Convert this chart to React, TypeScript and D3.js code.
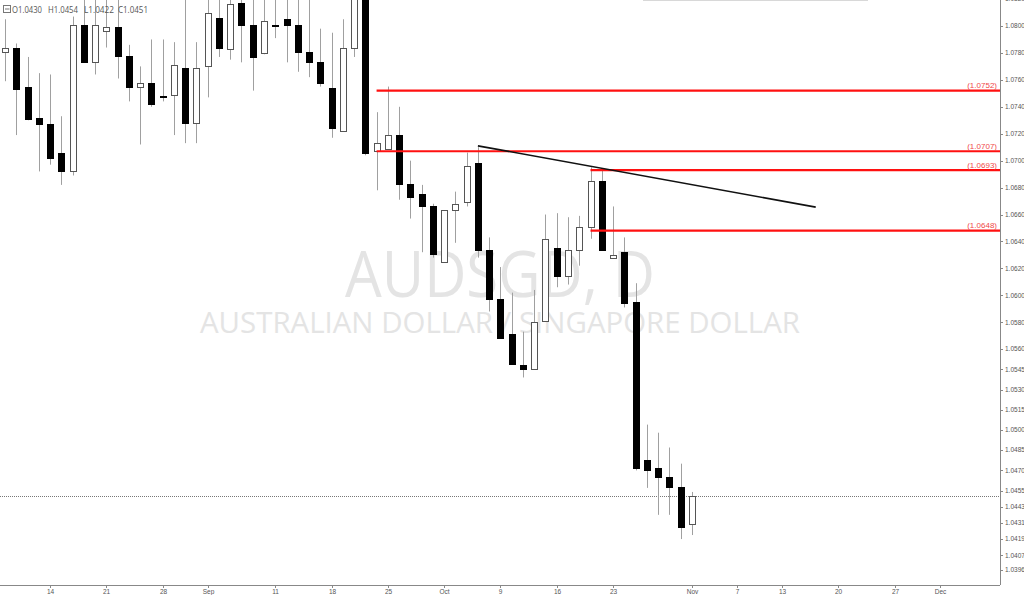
import React, { useMemo } from 'react';
import * as d3 from 'd3';

// Daily AUDSGD candles, 8 Aug 2017 .. 1 Nov 2017 (one per trading day)
const OPEN = [
  1.0781, 1.0784, 1.0755, 1.0732, 1.0727, 1.0706, 1.0692, 1.0801, 1.0773, 1.0796,
  1.0799, 1.0778, 1.0755, 1.0758, 1.0748, 1.0749, 1.0769, 1.0728, 1.077, 1.0806,
  1.0783, 1.0817, 1.0801, 1.078, 1.0801, 1.0805, 1.0801, 1.0781, 1.0773, 1.0754,
  1.0722, 1.0784, 1.0828, 1.0707, 1.0709, 1.0719, 1.0683, 1.0675, 1.0666, 1.0625,
  1.0663, 1.0669, 1.0698, 1.0634, 1.0597, 1.0571, 1.0548, 1.0545, 1.0581, 1.0635,
  1.0614, 1.0634, 1.0651, 1.0685, 1.0628, 1.0632, 1.0595, 1.0478, 1.0472, 1.0465,
  1.0458, 1.043,
];
const HIGH = [
  1.0805, 1.0787, 1.0777, 1.0765, 1.0764, 1.0733, 1.0807, 1.0826, 1.0822, 1.0822,
  1.0822, 1.0786, 1.077, 1.079, 1.079, 1.0788, 1.0823, 1.0788, 1.0824, 1.0824,
  1.0826, 1.0826, 1.0825, 1.0824, 1.0823, 1.0824, 1.0823, 1.0822, 1.0798, 1.0795,
  1.0805, 1.0832, 1.0835, 1.0736, 1.0755, 1.074, 1.07, 1.0682, 1.0668, 1.0663,
  1.0677, 1.0706, 1.071, 1.0643, 1.0621, 1.0602, 1.0573, 1.0604, 1.066, 1.0661,
  1.0658, 1.0659, 1.0695, 1.0694, 1.0666, 1.0643, 1.0609, 1.0504, 1.0498, 1.0487,
  1.0475, 1.0454,
];
const LOW = [
  1.0759, 1.0719, 1.073, 1.0692, 1.0697, 1.0682, 1.0689, 1.0773, 1.0764, 1.0784,
  1.0761, 1.0744, 1.0712, 1.074, 1.0744, 1.0719, 1.0713, 1.0713, 1.0747, 1.0777,
  1.0775, 1.0773, 1.0752, 1.0779, 1.0791, 1.0773, 1.0766, 1.0762, 1.0755, 1.0717,
  1.0722, 1.0777, 1.0704, 1.0678, 1.0709, 1.0671, 1.0657, 1.0632, 1.0628, 1.0624,
  1.0639, 1.0666, 1.0628, 1.0588, 1.0568, 1.0549, 1.0539, 1.0545, 1.0581, 1.0606,
  1.0608, 1.0622, 1.0642, 1.0634, 1.0628, 1.0591, 1.047, 1.0457, 1.0437, 1.0437,
  1.0419, 1.0422,
];
const CLOSE = [
  1.0784, 1.0753, 1.0731, 1.0727, 1.0702, 1.0692, 1.0801, 1.0773, 1.0801, 1.0799,
  1.0778, 1.0755, 1.0758, 1.0742, 1.0747, 1.0771, 1.0728, 1.0769, 1.081, 1.0784,
  1.0816, 1.0801, 1.0777, 1.0804, 1.08, 1.0801, 1.0781, 1.0773, 1.0758, 1.0724,
  1.0784, 1.0825, 1.0706, 1.0713, 1.0719, 1.0683, 1.0673, 1.0666, 1.0631, 1.0663,
  1.0668, 1.0696, 1.0634, 1.0597, 1.0568, 1.0549, 1.0545, 1.058, 1.0642, 1.0614,
  1.0634, 1.0651, 1.0685, 1.0634, 1.063, 1.0594, 1.0472, 1.047, 1.0465, 1.0458,
  1.0428, 1.0451,
];

// horizontal levels and the day each one starts on
const LEVELS = [1.0752, 1.0707, 1.0693, 1.0648];
const LEVEL_START = [33, 33, 52, 52];

// trend line: [day index, price]
const TREND: [number, number][] = [[42, 1.0711], [72, 1.06655]];

const Y_TICKS = [
  1.082, 1.08, 1.078, 1.076, 1.074, 1.072, 1.07, 1.068, 1.066, 1.064, 1.062, 1.06,
  1.058, 1.056, 1.0545, 1.053, 1.0515, 1.05, 1.0485, 1.047, 1.0455, 1.0443, 1.0431,
  1.0419, 1.0407, 1.0396,
];
const X_TICK_DATES = [
  '2017-08-14', '2017-08-21', '2017-08-28', '2017-09-01', '2017-09-11', '2017-09-18',
  '2017-09-25', '2017-10-02', '2017-10-09', '2017-10-16', '2017-10-23', '2017-11-01',
  '2017-11-07', '2017-11-13', '2017-11-20', '2017-11-27', '2017-12-01',
];
const X_TICK_LABELS = ['14', '21', '28', 'Sep', '11', '18', '25', 'Oct', '9', '16', '23', 'Nov', '7', '13', '20', '27', 'Dec'];

const W = 1024;
const H = 595;
const PLOT_R = 1000;
const PLOT_B = 585;
const STEP = 11.26;
const BODY_W = 7;

const AXIS_FONT = '"Liberation Sans", Arial, sans-serif';
const UI_FONT = '"Open Sans", "Noto Sans", sans-serif';

const App = () => {
  // trading-day calendar (weekdays) from the first candle to past the last tick
  const days = useMemo(() => {
    const fmt = d3.timeFormat('%Y-%m-%d');
    return d3.timeDay
      .range(new Date(2017, 7, 8), new Date(2017, 11, 9))
      .filter(d => d.getDay() !== 0 && d.getDay() !== 6)
      .map(fmt);
  }, []);

  const x = useMemo(
    () => d3.scalePoint<string>().domain(days).range([5, 5 + STEP * (days.length - 1)]),
    [days]
  );
  const xi = (i: number) => 5 + STEP * i;
  const y = d3.scaleLinear().domain([1.03849, 1.08193]).range([PLOT_B, 0]);

  const n = OPEN.length - 1;
  const header = [
    { k: 'O', v: OPEN[n], x: 12 },
    { k: 'H', v: HIGH[n], x: 48 },
    { k: 'L', v: LOW[n], x: 84 },
    { k: 'C', v: CLOSE[n], x: 118 },
  ];

  return (
    <div style={{ position: 'fixed', left: 0, top: 0 }}>
      <svg width={W} height={H} style={{ display: 'block', background: '#fff' }}>
        <defs>
          <clipPath id="plot">
            <rect x={0} y={0} width={PLOT_R} height={PLOT_B} />
          </clipPath>
        </defs>

        {/* watermark */}
        <g fill="#e4e4e4" textAnchor="middle" fontFamily={UI_FONT}>
          <text x={500} y={297} fontSize={64} textLength={310} lengthAdjust="spacingAndGlyphs">AUDSGD, D</text>
          <text x={500} y={333} fontSize={29} textLength={600} lengthAdjust="spacingAndGlyphs">
            AUSTRALIAN DOLLAR / SINGAPORE DOLLAR
          </text>
        </g>

        {/* faint box edge at the top */}
        <line x1={643} x2={868} y1={0.5} y2={0.5} stroke="#d8d8d8" />

        <g clipPath="url(#plot)">
          {/* last price dotted line */}
          <line x1={0} x2={PLOT_R} y1={Math.round(y(CLOSE[n])) + 0.5} y2={Math.round(y(CLOSE[n])) + 0.5}
            stroke="#777" strokeDasharray="1,1" />

          {/* candles */}
          {OPEN.map((o, i) => {
            const c = CLOSE[i];
            const cx = Math.round(x(days[i]) ?? 0);
            const up = c >= o;
            const top = Math.round(y(Math.max(o, c)));
            const bot = Math.round(y(Math.min(o, c)));
            const bh = Math.max(1, bot - top);
            return (
              <g key={days[i]}>
                <line x1={cx + 0.5} x2={cx + 0.5} y1={y(HIGH[i])} y2={y(LOW[i])} stroke="#a0a0a0" strokeWidth={1} />
                {up ? (
                  <rect x={cx - 3 + 0.5} y={top + 0.5} width={BODY_W - 1} height={bh} fill="#fff" stroke="#555" strokeWidth={1} />
                ) : (
                  <rect x={cx - 3} y={top} width={BODY_W} height={bh + 1} fill="#000" />
                )}
              </g>
            );
          })}

          {/* support / resistance levels */}
          {LEVELS.map((v, k) => (
            <g key={v}>
              <line x1={xi(LEVEL_START[k])} x2={PLOT_R} y1={y(v)} y2={y(v)} stroke="#ff1010" strokeWidth={2.2} />
              <text x={997} y={y(v) - 2.5} textAnchor="end" fontSize={8} fill="#f04848" fontFamily={AXIS_FONT}>
                {`(${v.toFixed(4)})`}
              </text>
            </g>
          ))}

          {/* trend line */}
          <line x1={xi(TREND[0][0])} y1={y(TREND[0][1])} x2={xi(TREND[1][0])} y2={y(TREND[1][1])}
            stroke="#111" strokeWidth={1.6} />
        </g>

        {/* axes */}
        <line x1={PLOT_R + 0.5} x2={PLOT_R + 0.5} y1={0} y2={PLOT_B} stroke="#888" />
        <line x1={0} x2={PLOT_R} y1={PLOT_B + 0.5} y2={PLOT_B + 0.5} stroke="#888" />

        <g fontFamily={AXIS_FONT} fontSize={6.5} fill="#555">
          {Y_TICKS.map(v => (
            <g key={v}>
              <line x1={PLOT_R} x2={PLOT_R + 3} y1={Math.round(y(v)) + 0.5} y2={Math.round(y(v)) + 0.5} stroke="#888" />
              <text x={PLOT_R + 5} y={y(v) + 2.3}>{v.toFixed(4)}</text>
            </g>
          ))}
          {X_TICK_DATES.map((d, k) => {
            const px = Math.round(x(d) ?? 0) + 0.5;
            return (
              <g key={d}>
                <line x1={px} x2={px} y1={PLOT_B} y2={PLOT_B + 3} stroke="#888" />
                <text x={px} y={594} textAnchor="middle">{X_TICK_LABELS[k]}</text>
              </g>
            );
          })}
        </g>

        {/* OHLC header */}
        <g fill="#555" fontFamily={UI_FONT} fontSize={9}>
          <rect x={3.5} y={5.5} width={7} height={7} fill="none" stroke="#777" />
          <line x1={5} x2={9.5} y1={9} y2={9} stroke="#777" />
          {header.map(h => (
            <text key={h.k} x={h.x} y={12.5} textLength={30} lengthAdjust="spacingAndGlyphs">
              {`${h.k}${h.v.toFixed(4)}`}
            </text>
          ))}
        </g>
      </svg>
    </div>
  );
};

export default App;
